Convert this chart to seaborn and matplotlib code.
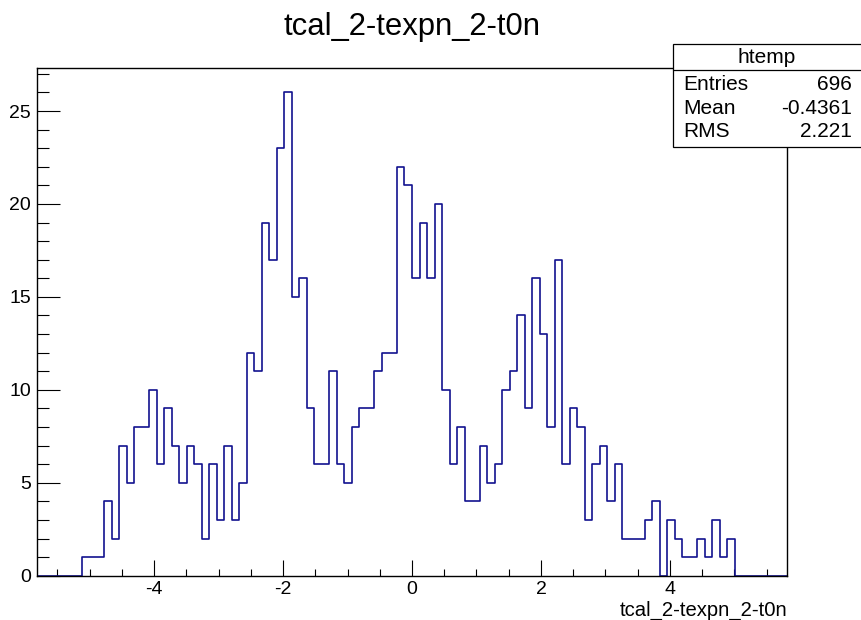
import numpy as np
import pandas as pd
import matplotlib
matplotlib.use("Agg")
import matplotlib.pyplot as plt
import seaborn as sns
from matplotlib.patches import Rectangle
from matplotlib.lines import Line2D
from matplotlib.ticker import MultipleLocator

# histogram definition (ROOT htemp: 100 bins)
var_name = "tcal_2-texpn_2-t0n"
hist_name = "htemp"
x_min, x_max, n_bins = -5.82, 5.82, 100
first_filled = 6

# bin contents, starting at bin index 6
counts_filled = [1, 1, 1, 4, 2, 7, 5, 8, 8, 10,
                 6, 9, 7, 5, 7, 6, 2, 6, 3, 7,
                 3, 5, 12, 11, 19, 17, 23, 26, 15, 16,
                 9, 6, 6, 11, 6, 5, 8, 9, 9, 11,
                 12, 12, 22, 21, 16, 19, 16, 20, 10, 6,
                 8, 4, 4, 7, 5, 6, 10, 11, 14, 9,
                 16, 13, 8, 17, 6, 9, 8, 3, 6, 7,
                 4, 6, 2, 2, 2, 3, 4, 0, 3, 2,
                 1, 1, 2, 1, 3, 1, 2]

stat_labels = ["Entries", "Mean", "RMS"]
stat_values = ["696", "-0.4361", "2.221"]

counts = np.zeros(n_bins)
counts[first_filled:first_filled + len(counts_filled)] = counts_filled
edges = np.linspace(x_min, x_max, n_bins + 1)
centers = 0.5 * (edges[:-1] + edges[1:])
df = pd.DataFrame({"x": centers, "w": counts})

sns.set_style("ticks")
plt.rcParams['font.family'] = ['Liberation Sans', 'DejaVu Sans']
plt.rcParams['axes.unicode_minus'] = False
plt.rcParams['text.color'] = 'black'
plt.rcParams['xtick.color'] = 'black'
plt.rcParams['ytick.color'] = 'black'

W, H = 861, 620
fig = plt.figure(figsize=(W / 100, H / 100), dpi=100)
ax = fig.add_axes([36.7 / W, 1 - 575.7 / H, (787.3 - 36.7) / W, (575.7 - 68.3) / H])

sns.histplot(data=df, x="x", weights="w", bins=list(edges), element="step", fill=False,
             color="#12128f", linewidth=1.2, ax=ax)

ax.set_xlim(x_min, x_max)
ax.set_ylim(0, 1.05 * counts.max())
ax.set_xlabel("")
ax.set_ylabel("")

ax.xaxis.set_major_locator(MultipleLocator(2))
ax.xaxis.set_minor_locator(MultipleLocator(0.5))
ax.yaxis.set_major_locator(MultipleLocator(5))
ax.yaxis.set_minor_locator(MultipleLocator(1))
ax.tick_params(axis='x', which='major', direction='in', length=11.5, width=0.8,
               labelsize=14, pad=4, top=False, labelcolor='black')
ax.tick_params(axis='x', which='minor', direction='in', length=5.4, width=0.8, top=False)
ax.tick_params(axis='y', which='major', direction='in', length=16.5, width=0.8,
               labelsize=14, pad=4, right=False, labelcolor='black')
ax.tick_params(axis='y', which='minor', direction='in', length=8.6, width=0.8, right=False)
for s in ax.spines.values():
    s.set_visible(True)
    s.set_color("black")
    s.set_linewidth(1.0)
    s.set_zorder(3)

# title and axis label
fig.text(412.5 / W, 1 - 35 / H, var_name, ha='center', va='baseline', fontsize=22.3)
fig.text(787.3 / W, 1 - 615.5 / H, var_name, ha='right', va='baseline', fontsize=14.6)

# stats box
bx0, bx1, by0, by1 = 673.3 / W, 862 / W, 1 - 146.7 / H, 1 - 44 / H
fig.patches.append(Rectangle((bx0, by0), bx1 - bx0, by1 - by0, transform=fig.transFigure,
                             facecolor='white', edgecolor='black', linewidth=0.9, zorder=5))
fig.lines.append(Line2D([bx0, bx1], [1 - 70 / H] * 2, transform=fig.transFigure,
                        color='black', linewidth=0.9, zorder=6))
fig.text(766.7 / W, 1 - 57.5 / H, hist_name, ha='center', va='center', fontsize=15, zorder=7)
row_y = [85, 108.3, 131.7]
for lab, val, yy in zip(stat_labels, stat_values, row_y):
    fig.text(683 / W, 1 - yy / H, lab, ha='left', va='center', fontsize=15, zorder=7)
    fig.text(851.7 / W, 1 - yy / H, val, ha='right', va='center', fontsize=15, zorder=7)

fig.savefig("out.png", dpi=100)
